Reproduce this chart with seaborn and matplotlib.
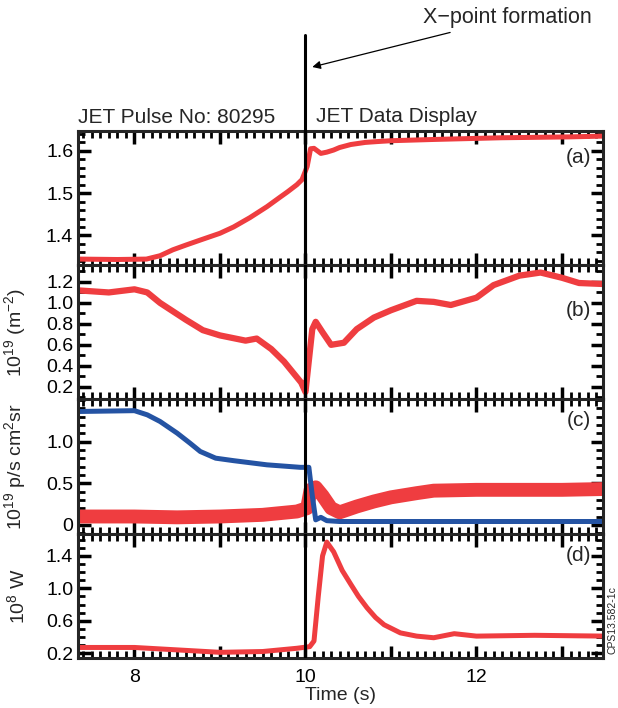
import numpy as np
import pandas as pd
import matplotlib
matplotlib.use("Agg")
import matplotlib.pyplot as plt
from matplotlib.ticker import MultipleLocator, FixedLocator, FixedFormatter
import seaborn as sns

# ---------------- data ----------------
t_a = [7.34, 7.8, 8.14, 8.3, 8.45, 8.6, 8.77, 9.0, 9.16, 9.35, 9.55, 9.7, 9.79, 9.9, 9.96,
       10.02, 10.06, 10.1, 10.18, 10.25, 10.33, 10.4, 10.53, 10.7, 10.84, 11.0, 11.5,
       12.29, 13.07, 13.5]
v_a = [1.344, 1.343, 1.344, 1.352, 1.366, 1.377, 1.389, 1.405, 1.42, 1.442, 1.468, 1.49,
       1.503, 1.52, 1.532, 1.563, 1.605, 1.606, 1.594, 1.597, 1.602, 1.608, 1.615, 1.62,
       1.622, 1.624, 1.627, 1.631, 1.633, 1.635]

t_b = [7.34, 7.7, 8.0, 8.15, 8.3, 8.45, 8.6, 8.8, 9.0, 9.3, 9.43, 9.6, 9.75, 9.85, 9.95,
       10.0, 10.04, 10.08, 10.12, 10.2, 10.3, 10.45, 10.6, 10.8, 11.0, 11.3, 11.5, 11.7,
       12.0, 12.2, 12.5, 12.75, 13.0, 13.2, 13.5]
v_b = [1.12, 1.1, 1.13, 1.1, 1.0, 0.92, 0.84, 0.74, 0.69, 0.64, 0.66, 0.56, 0.44, 0.34,
       0.24, 0.15, 0.45, 0.75, 0.82, 0.72, 0.6, 0.62, 0.75, 0.86, 0.93, 1.02, 1.01, 0.98,
       1.05, 1.17, 1.26, 1.29, 1.24, 1.19, 1.18]

t_cb = [7.34, 8.0, 8.15, 8.3, 8.5, 8.65, 8.77, 8.95, 9.16, 9.55, 9.94, 10.04, 10.08,
        10.12, 10.18, 10.25, 10.4, 11.0, 12.0, 13.5]
v_cb = [1.36, 1.37, 1.32, 1.24, 1.1, 0.98, 0.88, 0.8, 0.77, 0.72, 0.69, 0.69, 0.35,
        0.06, 0.09, 0.05, 0.04, 0.04, 0.04, 0.04]

t_cr = [7.34, 8.0, 8.5, 9.0, 9.5, 9.9, 10.02, 10.06, 10.12, 10.2, 10.3, 10.4, 10.6,
        10.8, 11.0, 11.3, 11.5, 12.0, 12.5, 13.0, 13.5]
v_cr = [0.1, 0.1, 0.09, 0.1, 0.12, 0.16, 0.2, 0.42, 0.45, 0.35, 0.2, 0.15, 0.22,
        0.28, 0.33, 0.38, 0.41, 0.42, 0.42, 0.42, 0.43]

t_d = [7.34, 8.0, 8.5, 9.0, 9.5, 9.9, 10.05, 10.1, 10.15, 10.2, 10.25, 10.33, 10.43,
       10.53, 10.62, 10.72, 10.82, 10.92, 11.11, 11.3, 11.5, 11.74, 12.0, 12.68, 13.5]
v_d = [0.27, 0.27, 0.24, 0.21, 0.22, 0.26, 0.28, 0.35, 0.9, 1.4, 1.57, 1.45, 1.22,
       1.05, 0.9, 0.76, 0.64, 0.55, 0.45, 0.41, 0.39, 0.44, 0.41, 0.42, 0.41]

x_lim = (7.34, 13.48)
x_major = [8, 10, 12]
t_xpoint = 10.0

yticks_a = [1.4, 1.5, 1.6]
yticks_b = [0.2, 0.4, 0.6, 0.8, 1.0, 1.2]
yticks_c = [0, 0.5, 1.0]
ytl_c = ["0", "0.5", "1.0"]
yticks_d = [0.2, 0.6, 1.0, 1.4]

RED = "#EF3D40"
BLUE = "#2453A3"

# ---------------- style ----------------
sns.set_style("ticks")
plt.rcParams["font.family"] = ["Liberation Sans", "DejaVu Sans"]
plt.rcParams["mathtext.fontset"] = "custom"
plt.rcParams["mathtext.rm"] = "Liberation Sans"
plt.rcParams["mathtext.it"] = "Liberation Sans:italic"
plt.rcParams["axes.linewidth"] = 2.2

fig = plt.figure(figsize=(6.18, 7.08), dpi=100)
L, W = 78 / 618, (603 - 78) / 618
H = 708.0
rows = [(131, 265), (265, 399), (399, 534), (534, 658)]
axes = []
for top, bot in rows:
    ax = fig.add_axes([L, 1 - bot / H, W, (bot - top) / H])
    axes.append(ax)
ax_a, ax_b, ax_c, ax_d = axes

sns.lineplot(x=t_a, y=v_a, ax=ax_a, color=RED, lw=3.6, estimator=None)
sns.lineplot(x=t_b, y=v_b, ax=ax_b, color=RED, lw=4.5, estimator=None)
sns.lineplot(x=t_cr, y=v_cr, ax=ax_c, color=RED, lw=10, estimator=None)
sns.lineplot(x=t_cb, y=v_cb, ax=ax_c, color=BLUE, lw=3.6, estimator=None)
sns.lineplot(x=t_d, y=v_d, ax=ax_d, color=RED, lw=3.6, estimator=None)

ax_a.set_ylim(1.33, 1.647)
ax_b.set_ylim(0.083, 1.362)
ax_c.set_ylim(-0.11, 1.51)
ax_d.set_ylim(0.14, 1.67)

ax_a.yaxis.set_major_locator(FixedLocator(yticks_a))
ax_a.yaxis.set_minor_locator(MultipleLocator(0.02))
ax_b.yaxis.set_major_locator(FixedLocator(yticks_b))
ax_b.yaxis.set_minor_locator(MultipleLocator(0.1))
ax_c.yaxis.set_major_locator(FixedLocator(yticks_c))
ax_c.yaxis.set_major_formatter(FixedFormatter(ytl_c))
ax_c.yaxis.set_minor_locator(MultipleLocator(0.1))
ax_d.yaxis.set_major_locator(FixedLocator(yticks_d))
ax_d.yaxis.set_minor_locator(MultipleLocator(0.1))

for ax in axes:
    ax.set_xlim(*x_lim)
    ax.xaxis.set_major_locator(MultipleLocator(1))
    ax.xaxis.set_minor_locator(MultipleLocator(0.1))
    ax.tick_params(which="both", direction="in", top=True, right=True,
                   labelsize=14, colors="black")
    ax.tick_params(which="major", length=9, width=2.5)
    ax.tick_params(which="minor", length=5, width=2)
    ax.set_xlabel("")
    ax.set_ylabel("")
    for s in ax.spines.values():
        s.set_visible(True)
        s.set_linewidth(2.2)
    if ax is not ax_d:
        ax.tick_params(labelbottom=False)
    ax.axvline(t_xpoint, color="black", lw=2.2, zorder=5)

ax_d.tick_params(axis="x", which="major", pad=8)
ax_d.xaxis.set_major_formatter(
    plt.FuncFormatter(lambda v, p: f"{int(round(v))}" if int(round(v)) in x_major else ""))

ax_a.yaxis.set_major_formatter(plt.FuncFormatter(lambda v, p: f"{v:.1f}"))
ax_b.yaxis.set_major_formatter(plt.FuncFormatter(lambda v, p: f"{v:.1f}"))
ax_d.yaxis.set_major_formatter(plt.FuncFormatter(lambda v, p: f"{v:.1f}"))

# vertical X-point line extended above top panel
ax_a.axvline(t_xpoint, ymin=0, ymax=1 + (131 - 35) / 134, color="black", lw=2.2,
             clip_on=False, zorder=5)

ax_a.annotate("X\u2212point formation", xy=(10.08, (265 - 67) / 134),
              xycoords=("data", "axes fraction"),
              xytext=(11.38, (265 - 18) / 134), textcoords=("data", "axes fraction"),
              fontsize=15.5, va="center", ha="left",
              arrowprops=dict(arrowstyle="-|>", color="black", lw=0.9,
                              mutation_scale=12, shrinkA=2, shrinkB=0))

ax_a.text(0.0, 1.03, "JET Pulse No: 80295", transform=ax_a.transAxes,
          fontsize=15, ha="left", va="bottom")
ax_a.text(10.12, 1.04, "JET Data Display", transform=ax_a.get_xaxis_transform(),
          fontsize=15, ha="left", va="bottom")

for ax, lab, yf in [(ax_a, "(a)", 0.80), (ax_b, "(b)", 0.66),
                    (ax_c, "(c)", 0.84), (ax_d, "(d)", 0.83)]:
    ax.text(0.978, yf, lab, transform=ax.transAxes, fontsize=15,
            ha="right", va="center")

ax_b.set_ylabel(r"10$^{19}$ (m$^{-2}$)", fontsize=14)
ax_c.set_ylabel(r"10$^{19}$ p/s cm$^{2}$sr", fontsize=14)
ax_d.set_ylabel(r"10$^{8}$ W", fontsize=14)
for ax in (ax_b, ax_c, ax_d):
    ax.yaxis.set_label_coords(-0.095, 0.5)

ax_d.set_xlabel("Time (s)", fontsize=14, labelpad=1)

fig.text(612 / 618, 1 - 620 / H, "CPS13.582-1c", rotation=90, fontsize=7.5,
         ha="center", va="center")

fig.savefig("out.png", dpi=100)
